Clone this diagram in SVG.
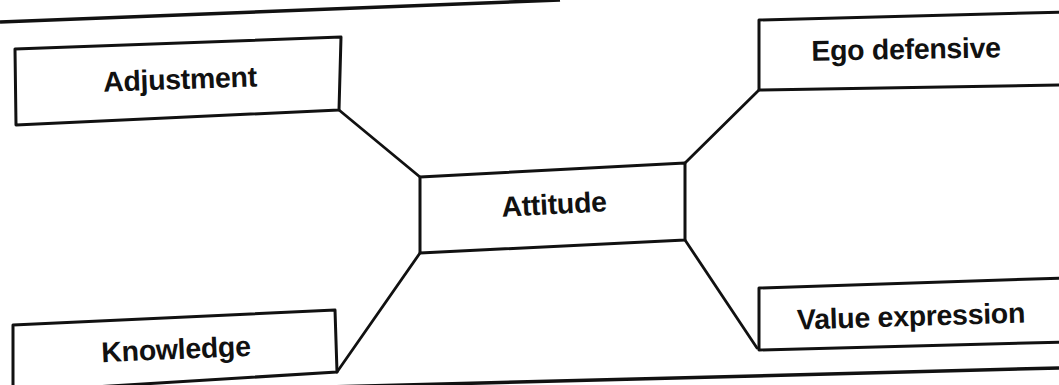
<svg xmlns="http://www.w3.org/2000/svg" width="1059" height="385" viewBox="0 0 1059 385">
<style>
.box{fill:#fff;stroke:#111;stroke-width:3;stroke-linejoin:round}
.rule{fill:none;stroke:#111;stroke-width:3.5}
.lbl{font-family:"Liberation Sans",Arial,Helvetica,sans-serif;font-weight:bold;font-size:28.5px;fill:#111;text-anchor:middle;letter-spacing:-0.3px}
#connectors line{stroke:#111;stroke-width:2.8;stroke-linecap:round}
</style>
<rect width="1059" height="385" fill="#fff"/>
<line class="rule" x1="0" y1="22" x2="560" y2="0"/>
<line class="rule" x1="250" y1="389" x2="1059" y2="368"/>
<g id="connectors">
<line x1="339" y1="110" x2="420" y2="177"/>
<line x1="759" y1="90" x2="685" y2="163"/>
<line x1="337" y1="372" x2="420" y2="253"/>
<line x1="685" y1="240" x2="757" y2="348"/>
</g>
<g id="adjustment">
<polygon class="box" points="15,49 341,37 339,110 16,125"/>
<text class="lbl" x="180" y="89" transform="rotate(-2 180 80)">Adjustment</text>
</g>
<g id="ego">
<polygon class="box" points="759,20 1065,12 1065,85 759,90"/>
<text class="lbl" x="906" y="59" transform="rotate(-1 906 50)">Ego defensive</text>
</g>
<g id="attitude">
<polygon class="box" points="420,177 685,163 685,240 420,253"/>
<text class="lbl" x="554" y="214" transform="rotate(-3 554 205)">Attitude</text>
</g>
<g id="knowledge">
<polygon class="box" points="13,325 335,310 337,372 13,392"/>
<text class="lbl" x="176" y="359" transform="rotate(-2.5 176 350)">Knowledge</text>
</g>
<g id="value">
<polygon class="box" points="759,288 1065,278 1065,342 759,350"/>
<text class="lbl" x="911" y="326" transform="rotate(-1.8 911 317)">Value expression</text>
</g>
</svg>
